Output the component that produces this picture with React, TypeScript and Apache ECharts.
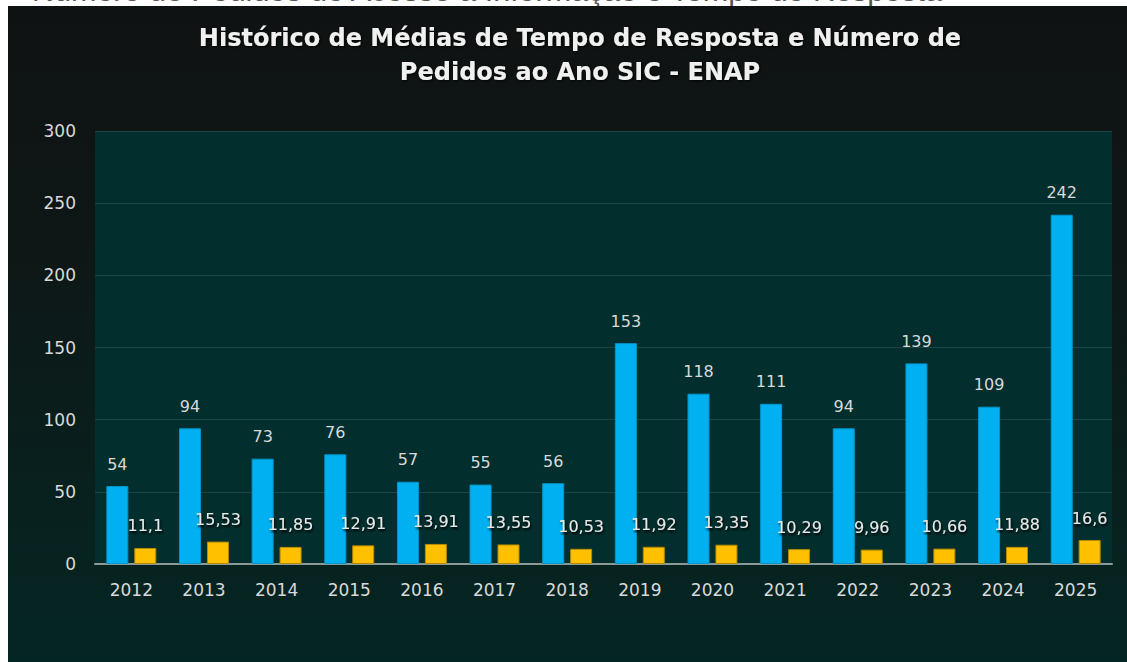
import React, { useEffect, useRef } from "react";
import * as echarts from "echarts";

const years = ["2012", "2013", "2014", "2015", "2016", "2017", "2018", "2019", "2020", "2021", "2022", "2023", "2024", "2025"];
const pedidos = [54, 94, 73, 76, 57, 55, 56, 153, 118, 111, 94, 139, 109, 242];
const tempoMedio = [11.1, 15.53, 11.85, 12.91, 13.91, 13.55, 10.53, 11.92, 13.35, 10.29, 9.96, 10.66, 11.88, 16.6];
const yMin = 0;
const yMax = 300;
const yInterval = 50;
const titleText = "Histórico de Médias de Tempo de Resposta e Número de\nPedidos ao Ano SIC - ENAP";
const topCaption = "Número de Pedidos de Acesso à Informação e Tempo de Resposta";

const FONT = '"DejaVu Sans", "Liberation Sans", sans-serif';

export default function App() {
  const ref = useRef<HTMLDivElement>(null);
  useEffect(() => {
    if (!ref.current) return;
    const chart = echarts.init(ref.current, null, { renderer: "svg" });
    chart.setOption({
      animation: false,
      backgroundColor: "#ffffff",
      textStyle: { fontFamily: FONT },
      title: {
        text: titleText,
        left: 575,
        top: 16,
        textAlign: "center",
        textStyle: {
          color: "#f0f0f0",
          fontSize: 24,
          fontWeight: "bold",
          fontFamily: FONT,
          lineHeight: 34,
          textShadowColor: "rgba(0,0,0,0.9)",
          textShadowBlur: 3,
          textShadowOffsetX: 1,
          textShadowOffsetY: 1,
        },
      },
      graphic: [
        {
          type: "text",
          z: -20,
          left: 32,
          top: -25.5,
          style: {
            text: topCaption,
            font: '30.5px "Liberation Sans", sans-serif',
            fill: "#555555",
          },
        },
        {
          type: "rect",
          z: -10,
          shape: { x: 8, y: 6, width: 1119, height: 656 },
          style: {
            fill: new echarts.graphic.LinearGradient(0, 0, 0, 1, [
              { offset: 0, color: "#0f1212" },
              { offset: 0.35, color: "#0e1716" },
              { offset: 1, color: "#042623" },
            ]),
          },
        },
      ],
      grid: {
        left: 95,
        right: 15,
        top: 131,
        bottom: 98,
        show: true,
        backgroundColor: "#022e2d",
        borderWidth: 0,
      },
      xAxis: {
        type: "category",
        data: years,
        axisLine: { show: true, lineStyle: { color: "#8a9898", width: 2 } },
        axisTick: { show: false },
        axisLabel: { color: "#d9d9d9", fontSize: 17, margin: 17, fontFamily: FONT },
      },
      yAxis: {
        type: "value",
        min: yMin,
        max: yMax,
        interval: yInterval,
        axisLine: { show: false },
        axisTick: { show: false },
        axisLabel: { color: "#d9d9d9", fontSize: 17, margin: 19, fontFamily: FONT },
        splitLine: { lineStyle: { color: "rgba(255,255,255,0.11)", width: 1 } },
      },
      series: [
        {
          name: "Número de Pedidos",
          type: "bar",
          data: pedidos,
          barWidth: 22,
          barGap: "27%",
          itemStyle: { color: "#00b0f0", borderColor: "#0096cc", borderWidth: 1 },
          label: {
            show: true,
            position: "top",
            distance: 14,
            color: "#d9d9d9",
            fontSize: 16,
            fontFamily: FONT,
          },
        },
        {
          name: "Tempo Médio de Resposta",
          type: "bar",
          data: tempoMedio,
          barWidth: 22,
          itemStyle: { color: "#ffc000", borderColor: "#b98c00", borderWidth: 1 },
          label: {
            show: true,
            position: "top",
            distance: 14,
            color: "#e8e8e8",
            fontSize: 16,
            fontFamily: FONT,
            textShadowColor: "rgba(0,0,0,0.95)",
            textShadowBlur: 2,
            textShadowOffsetX: 1,
            textShadowOffsetY: 2,
            formatter: (p: any) => String(p.value).replace(".", ","),
          },
        },
      ],
    });
    return () => chart.dispose();
  }, []);
  return (
    <div
      ref={ref}
      style={{ position: "absolute", left: 0, top: 0, width: 1127, height: 662 }}
    />
  );
}
